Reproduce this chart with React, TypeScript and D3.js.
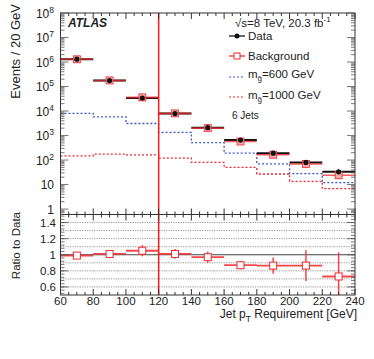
import React, { useEffect, useRef } from 'react';
import * as d3 from 'd3';

// jet pT requirement bins (lower edge, GeV)
const binLow = [60, 80, 100, 120, 140, 160, 180, 200, 220];
const binWidth = 20;
const xTicks = [60, 80, 100, 120, 140, 160, 180, 200, 220, 240];

const dataVals = [1.3e6, 1.75e5, 3.4e4, 7.9e3, 2.1e3, 650, 190, 80, 33];
const bkgVals = [1.29e6, 1.77e5, 3.6e4, 8.0e3, 2.0e3, 570, 165, 69, 24];
const sig600 = [8000, 5800, 3100, 1350, 510, 190, 70, 28, 12];
const sig1000 = [148, 174, 162, 120, 80, 50, 27, 13.5, 6.8];

const ratioVals = [0.99, 1.01, 1.05, 1.01, 0.97, 0.87, 0.865, 0.865, 0.73];
const ratioErr = [0.015, 0.01, 0.07, 0.06, 0.07, 0.05, 0.1, 0.19, 0.3];
const ratioTicks = [0.6, 0.8, 1, 1.2, 1.4];
const ratioGrid = [0.6, 0.7, 0.8, 0.9, 1.1, 1.2, 1.3, 1.4];

const cutValue = 120;

const RED = '#f0282d';
const BLUE = '#3c5ac8';
const FONT = 'Liberation Sans, Arial, Helvetica, sans-serif';

const App = () => {
  const ref = useRef<SVGSVGElement>(null);

  useEffect(() => {
    const svg = d3.select(ref.current);
    svg.selectAll('*').remove();

    const left = 60.5;
    const right = 355;
    const topY = 13;
    const midY = 214.5;
    const botY = 295;

    const x = d3.scaleLinear().domain([60, 240]).range([left, right]);
    const y = d3.scaleLog().domain([0.6, 1e8]).range([midY, topY]);
    const yr = d3.scaleLinear().domain([0.5, 1.5]).range([botY, midY]);

    const g = svg.append('g').attr('font-family', FONT).attr('fill', '#222');

    // ---------- ratio grid ----------
    g.append('g').selectAll('line')
      .data(ratioGrid).enter()
      .append('line')
      .attr('x1', left).attr('x2', right)
      .attr('y1', d => yr(d)).attr('y2', d => yr(d))
      .attr('stroke', '#777').attr('stroke-width', 0.8)
      .attr('stroke-dasharray', '1.2,1.2');
    g.append('line')
      .attr('x1', left).attr('x2', right)
      .attr('y1', yr(1)).attr('y2', yr(1))
      .attr('stroke', '#444').attr('stroke-width', 1);

    // ---------- signal step lines ----------
    const stepLine = d3.line<[number, number]>()
      .x(d => x(d[0])).y(d => y(d[1]))
      .curve(d3.curveStepAfter);
    const stepPts = (vals: number[]) => {
      const pts: [number, number][] = binLow.map((b, i) => [b, vals[i]]);
      pts.push([binLow[binLow.length - 1] + binWidth, vals[vals.length - 1]]);
      return pts;
    };
    g.append('path').attr('d', stepLine(stepPts(sig600)) as string)
      .attr('fill', 'none').attr('stroke', BLUE).attr('stroke-width', 1.3)
      .attr('stroke-dasharray', '2,2');
    g.append('path').attr('d', stepLine(stepPts(sig1000)) as string)
      .attr('fill', 'none').attr('stroke', RED).attr('stroke-width', 1.3)
      .attr('stroke-dasharray', '2,2');

    // ---------- data + background ----------
    g.append('g').selectAll('line')
      .data(binLow).enter()
      .append('line')
      .attr('x1', d => x(d)).attr('x2', d => x(d + binWidth))
      .attr('y1', (d, i) => y(dataVals[i])).attr('y2', (d, i) => y(dataVals[i]))
      .attr('stroke', '#111').attr('stroke-width', 2);
    g.append('g').selectAll('line')
      .data(binLow).enter()
      .append('line')
      .attr('x1', d => x(d)).attr('x2', d => x(d + binWidth))
      .attr('y1', (d, i) => y(bkgVals[i])).attr('y2', (d, i) => y(bkgVals[i]))
      .attr('stroke', RED).attr('stroke-width', 1.6).attr('stroke-opacity', 0.75);
    g.append('g').selectAll('rect')
      .data(binLow).enter()
      .append('rect')
      .attr('x', d => x(d + binWidth / 2) - 3.5)
      .attr('y', (d, i) => y(bkgVals[i]) - 3.5)
      .attr('width', 7).attr('height', 7)
      .attr('fill', '#f6aaaa').attr('stroke', RED).attr('stroke-width', 0.8);
    g.append('g').selectAll('circle')
      .data(binLow).enter()
      .append('circle')
      .attr('cx', d => x(d + binWidth / 2))
      .attr('cy', (d, i) => y(dataVals[i]))
      .attr('r', 2.6)
      .attr('fill', '#111');

    // ---------- ratio points ----------
    const rg = g.append('g');
    rg.selectAll('line.h')
      .data(binLow).enter()
      .append('line')
      .attr('x1', d => x(d)).attr('x2', d => x(d + binWidth))
      .attr('y1', (d, i) => yr(ratioVals[i])).attr('y2', (d, i) => yr(ratioVals[i]))
      .attr('stroke', RED).attr('stroke-width', 1.8).attr('stroke-opacity', 0.85);
    rg.selectAll('line.v')
      .data(binLow).enter()
      .append('line')
      .attr('x1', d => x(d + binWidth / 2)).attr('x2', d => x(d + binWidth / 2))
      .attr('y1', (d, i) => yr(Math.max(0.5, ratioVals[i] - ratioErr[i])))
      .attr('y2', (d, i) => yr(ratioVals[i] + ratioErr[i]))
      .attr('stroke', RED).attr('stroke-width', 1.5).attr('stroke-opacity', 0.85);
    rg.selectAll('rect')
      .data(binLow).enter()
      .append('rect')
      .attr('x', d => x(d + binWidth / 2) - 3.5)
      .attr('y', (d, i) => yr(ratioVals[i]) - 3.5)
      .attr('width', 7).attr('height', 7)
      .attr('fill', '#fff').attr('stroke', RED).attr('stroke-width', 1);

    // ---------- cut line ----------
    g.append('line')
      .attr('x1', x(cutValue)).attr('x2', x(cutValue))
      .attr('y1', topY).attr('y2', botY)
      .attr('stroke', '#ff1a1a').attr('stroke-width', 1.5);

    // ---------- frames and ticks ----------
    const axisCol = '#333';
    [[topY, midY], [midY, botY]].forEach(([a, b]) => {
      g.append('rect')
        .attr('x', left).attr('y', a)
        .attr('width', right - left).attr('height', b - a)
        .attr('fill', 'none').attr('stroke', axisCol).attr('stroke-width', 1);
    });

    // x ticks (major every 20, minor every 5)
    const xMinor = d3.range(60, 240.1, 5);
    const xTickG = g.append('g').attr('stroke', axisCol).attr('stroke-width', 1);
    [[topY, 1], [midY, -1], [midY, 1], [botY, -1]].forEach(([yy, dir]) => {
      xTickG.append('g').selectAll('line')
        .data(xMinor).enter()
        .append('line')
        .attr('x1', d => x(d)).attr('x2', d => x(d))
        .attr('y1', yy)
        .attr('y2', d => yy + dir * (d % 20 === 0 ? 6 : 3));
    });

    // log y ticks
    const logTicks: { v: number; major: boolean }[] = [];
    for (let k = -1; k <= 7; k++) {
      for (let m = 1; m <= 9; m++) {
        const v = m * Math.pow(10, k);
        if (v >= 0.6 && v <= 1e8) logTicks.push({ v, major: m === 1 });
      }
    }
    logTicks.push({ v: 1e8, major: true });
    const yTickG = g.append('g').attr('stroke', '#555').attr('stroke-width', 0.8);
    [[left, 1], [right, -1]].forEach(([xx, dir]) => {
      yTickG.append('g').selectAll('line')
        .data(logTicks).enter()
        .append('line')
        .attr('x1', xx)
        .attr('x2', d => xx + dir * (d.major ? 8 : 4))
        .attr('y1', d => y(d.v)).attr('y2', d => y(d.v));
    });

    // ratio y ticks
    const rMinor = d3.range(0.52, 1.5, 0.04);
    [[left, 1], [right, -1]].forEach(([xx, dir]) => {
      yTickG.append('g').selectAll('line')
        .data(rMinor).enter()
        .append('line')
        .attr('x1', xx).attr('x2', xx + dir * 4)
        .attr('y1', d => yr(d)).attr('y2', d => yr(d));
      yTickG.append('g').selectAll('line')
        .data(ratioTicks).enter()
        .append('line')
        .attr('x1', xx).attr('x2', xx + dir * 8)
        .attr('y1', d => yr(d)).attr('y2', d => yr(d));
    });

    // ---------- labels ----------
    const labels = g.append('g').attr('font-size', 12).attr('fill', '#222');
    d3.range(0, 9).forEach(k => {
      const t = labels.append('text')
        .attr('x', 54).attr('y', y(Math.pow(10, k)) + 4.5)
        .attr('text-anchor', 'end');
      if (k === 0) t.text('1');
      else if (k === 1) t.text('10');
      else {
        t.append('tspan').text('10');
        t.append('tspan').attr('dy', -5).attr('font-size', 8.5).text(String(k));
      }
    });
    labels.append('g').selectAll('text')
      .data(ratioTicks).enter()
      .append('text')
      .attr('x', 56).attr('y', d => yr(d) + 4)
      .attr('text-anchor', 'end')
      .attr('font-size', 11.5)
      .text(d => String(d));
    labels.append('g').selectAll('text')
      .data(xTicks).enter()
      .append('text')
      .attr('x', d => x(d)).attr('y', 305)
      .attr('text-anchor', 'middle')
      .attr('font-size', 11.5)
      .text(d => String(d));

    // axis titles
    labels.append('text')
      .attr('transform', 'translate(20,4) rotate(-90)')
      .attr('text-anchor', 'end')
      .attr('font-size', 13)
      .text('Events / 20 GeV');
    labels.append('text')
      .attr('transform', 'translate(20,212) rotate(-90)')
      .attr('text-anchor', 'end')
      .attr('font-size', 11.5)
      .text('Ratio to Data');
    const xt = labels.append('text')
      .attr('x', 357).attr('y', 318)
      .attr('text-anchor', 'end')
      .attr('font-size', 12);
    xt.append('tspan').text('Jet p');
    xt.append('tspan').attr('dy', 3.5).attr('font-size', 8.5).text('T');
    xt.append('tspan').attr('dy', -3.5).text(' Requirement [GeV]');

    // ATLAS label
    labels.append('text')
      .attr('x', 68).attr('y', 26.5)
      .attr('font-weight', 'bold').attr('font-style', 'italic')
      .attr('font-size', 12)
      .text('ATLAS');

    // energy / lumi
    const lumi = labels.append('text')
      .attr('x', 235).attr('y', 27)
      .attr('font-size', 11.5);
    lumi.append('tspan').text('√s=8 TeV,  20.3 fb');
    lumi.append('tspan').attr('dy', -5).attr('font-size', 8).text('-1');

    // legend
    const lx0 = 229;
    const lx1 = 245;
    const leg = labels.append('g').attr('font-size', 11.5);
    // data
    leg.append('line').attr('x1', lx0).attr('x2', lx1).attr('y1', 36).attr('y2', 36)
      .attr('stroke', '#111').attr('stroke-width', 1.3);
    leg.append('circle').attr('cx', (lx0 + lx1) / 2).attr('cy', 36).attr('r', 2.5).attr('fill', '#111');
    leg.append('text').attr('x', 248).attr('y', 40).text('Data');
    // background
    leg.append('line').attr('x1', lx0).attr('x2', lx1).attr('y1', 56).attr('y2', 56)
      .attr('stroke', RED).attr('stroke-width', 1.3);
    leg.append('rect').attr('x', (lx0 + lx1) / 2 - 3).attr('y', 53).attr('width', 6).attr('height', 6)
      .attr('fill', '#fff').attr('stroke', RED).attr('stroke-width', 1);
    leg.append('text').attr('x', 248).attr('y', 59.5).text('Background');
    // signals
    [[77, 78, BLUE, '600'], [97, 98.5, RED, '1000']].forEach(([ly, ty, col, m]) => {
      leg.append('line').attr('x1', lx0).attr('x2', lx1).attr('y1', ly).attr('y2', ly)
        .attr('stroke', col as string).attr('stroke-width', 1.2).attr('stroke-dasharray', '2,2');
      const t = leg.append('text').attr('x', 248).attr('y', ty as number);
      t.append('tspan').text('m');
      t.append('tspan').attr('dy', 3).attr('font-size', 8).text('g̃');
      t.append('tspan').attr('dy', -3).text(`=${m} GeV`);
    });
    labels.append('text')
      .attr('x', 232).attr('y', 118.5)
      .attr('font-size', 10)
      .text('6 Jets');
  }, []);

  return (
    <svg
      ref={ref}
      width={374}
      height={359}
      style={{ position: 'absolute', left: 0, top: 0, background: '#fff' }}
    />
  );
};

export default App;
